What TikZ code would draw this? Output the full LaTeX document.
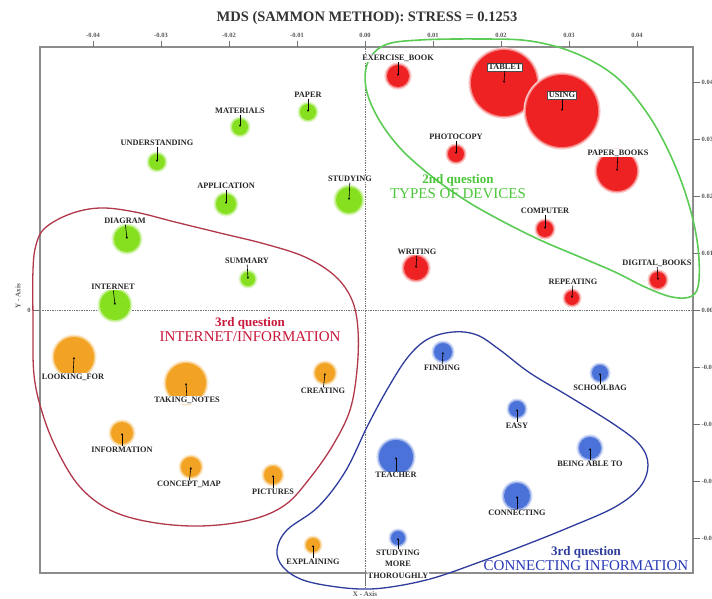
\documentclass[tikz,border=0pt]{standalone}
\usepackage{fontspec}
\setmainfont{Liberation Serif}
\usetikzlibrary{arrows.meta}

\definecolor{devred}{HTML}{EE2222}
\definecolor{strategygreen}{HTML}{86E020}
\definecolor{infoorange}{HTML}{F2A324}
\definecolor{connblue}{HTML}{4A72D8}
\definecolor{loopgreen}{HTML}{5CCB55}
\definecolor{loopred}{HTML}{B0384A}
\definecolor{loopblue}{HTML}{2E3C9C}
\definecolor{titlered}{HTML}{C8183C}
\definecolor{titlegreen}{HTML}{4CC63A}
\definecolor{titleblue}{HTML}{2B3AB8}
\definecolor{framegray}{HTML}{8C8C8C}

% one bubble with a soft rim: name, x, y, radius, colour
\newcommand{\mdsbubble}[5]{%
  \fill[#5!22] (#2,#3) circle ({#4+2.6});
  \fill[#5!55] (#2,#3) circle ({#4+1.3});
  \node[bubble, fill=#5, minimum size={2*#4}] (#1) at (#2,#3) {};
}
% the caption of a bubble and its stem: name, x, y, text
\newcommand{\mdslabel}[4]{%
  \node[itemlabel] (#1-l) at (#2,#3) {#4};
  \draw[stem] (#1-l) -- (#1.center);
}

\begin{document}
\begin{tikzpicture}[x=1pt,y=-1pt,
  bubble/.style={circle, draw=none, inner sep=0pt},
  itemlabel/.style={fill=white, inner sep=0.6pt, font=\fontsize{8.3}{9}\selectfont\bfseries, text=black!85},
  boxlabel/.style={itemlabel, draw=black!70, line width=0.5pt, inner sep=1.2pt},
  stem/.style={black, line width=0.6pt, -{Stealth[length=2.4pt,width=2.2pt]}},
  frameline/.style={framegray, line width=1.2pt},
  ticks/.style={framegray!80!black, line width=0.6pt},
  ticklabel/.style={font=\fontsize{6.5}{7}\selectfont\bfseries, text=black!65, inner sep=0.5pt},
  zeroline/.style={black!55, line width=0.7pt, densely dotted},
  grouploop/.style={line width=1.6pt},
  grouptitle/.style={font=\fontsize{15}{16}\selectfont, align=center, inner sep=0pt}]

\useasboundingbox (0,0) rectangle (712,599);
\fill[white] (0,0) rectangle (712,599);

% title
\node[font=\fontsize{14.5}{16}\selectfont\bfseries, text=black!80] (title) at (367,18) {MDS (SAMMON METHOD): STRESS = 0.1253};

% frame and zero lines
\draw[zeroline] (33,310) -- (700,310);
\draw[zeroline] (365,41) -- (365,588);
\draw[frameline] (40,47) rectangle (693,573);

% top axis
\foreach \v/\t in {-4/-0.04,-3/-0.03,-2/-0.02,-1/-0.01,0/0.00,1/0.01,2/0.02,3/0.03,4/0.04} {
  \draw[ticks] ({365+68*\v},47) -- ({365+68*\v},41);
  \node[ticklabel] at ({365+68*\v},35) {\t};
}
% right axis
\foreach \v/\t in {4/0.04,3/0.03,2/0.02,1/0.01,0/0.00,-1/-0.01,-2/-0.02,-3/-0.03,-4/-0.04} {
  \draw[ticks] (693,{310-57*\v}) -- (700,{310-57*\v});
  \node[ticklabel, anchor=west] at (701,{310-57*\v}) {\t};
}
% left and bottom axis names
\draw[ticks] (40,310) -- (34,310);
\node[ticklabel] (zero) at (29,310) {0};
\node[ticklabel, rotate=90, font=\fontsize{7}{8}\selectfont\bfseries] (yaxis) at (18,296) {Y - Axis};
\draw[ticks] (365,573) -- (365,586);
\node[ticklabel, font=\fontsize{7}{8}\selectfont\bfseries] (xaxis) at (365,594) {X - Axis};

% group outlines
\draw[grouploop, loopgreen] plot[smooth cycle, tension=0.6] coordinates {
  (368,62) (385,45) (420,40) (480,39) (530,41) (575,53) (615,76) (645,110)
  (668,150) (686,195) (697,240) (699,280) (692,296) (672,297) (645,287)
  (615,272) (580,257) (540,240) (500,220) (465,200) (430,175) (400,148)
  (378,118) (366,88)};
\draw[grouploop, loopred, line width=1.3pt] plot[smooth cycle, tension=0.6] coordinates {
  (45,228) (70,214) (100,208) (135,212) (175,222) (220,233) (265,244)
  (305,257) (335,276) (352,300) (358,330) (357,370) (350,410) (333,445)
  (310,478) (285,505) (250,520) (200,526) (150,522) (110,510) (80,487)
  (58,452) (43,415) (34,375) (33,320) (33,270) (36,245)};
\draw[grouploop, loopblue, line width=1.3pt] plot[smooth cycle, tension=0.6] coordinates {
  (453,332) (477,335) (500,350) (530,373) (570,397) (615,425) (640,445)
  (648,465) (640,487) (615,507) (570,527) (520,547) (477,563) (437,577)
  (403,585) (370,589) (337,587) (303,580) (283,567) (277,550) (287,530)
  (318,507) (345,472) (368,425) (388,388) (408,357) (428,339)};

% group titles
\node[grouptitle, text=titlegreen] (devices) at (458,187)
  {{\fontsize{13}{14}\selectfont\bfseries 2nd question}\\[-1pt]TYPES OF DEVICES};
\node[grouptitle, text=titlered] (internetinfo) at (250,330)
  {{\fontsize{13}{14}\selectfont\bfseries 3rd question}\\[-1pt]INTERNET/INFORMATION};
\node[grouptitle, text=titleblue] (conninfo) at (586,559)
  {{\fontsize{13}{14}\selectfont\bfseries\color{loopblue} 3rd question}\\[-1pt]CONNECTING INFORMATION};

% bubbles: types of devices
\mdsbubble{exbook}{398}{76}{11}{devred}
\mdsbubble{tablet}{504}{83}{33}{devred}
\mdsbubble{using}{562}{111}{36}{devred}
\mdsbubble{photocopy}{456}{154}{8}{devred}
\mdsbubble{paperbooks}{617}{171}{20}{devred}
\mdsbubble{computer}{545}{229}{8}{devred}
\mdsbubble{writing}{416}{268}{12}{devred}
\mdsbubble{repeating}{572}{298}{7}{devred}
\mdsbubble{digitalbooks}{658}{280}{8}{devred}
% bubbles: learning strategies
\mdsbubble{paper}{308}{112}{8}{strategygreen}
\mdsbubble{materials}{240}{127}{8}{strategygreen}
\mdsbubble{understanding}{157}{162}{8}{strategygreen}
\mdsbubble{application}{226}{204}{10}{strategygreen}
\mdsbubble{studying}{349}{200}{13}{strategygreen}
\mdsbubble{diagram}{127}{239}{13}{strategygreen}
\mdsbubble{summary}{248}{279}{7}{strategygreen}
\mdsbubble{internet}{115}{305}{15}{strategygreen}
% bubbles: internet / information
\mdsbubble{lookingfor}{74}{357}{20}{infoorange}
\mdsbubble{takingnotes}{186}{383}{20}{infoorange}
\mdsbubble{creating}{325}{373}{10}{infoorange}
\mdsbubble{information}{122}{433}{11}{infoorange}
\mdsbubble{conceptmap}{191}{467}{10}{infoorange}
\mdsbubble{pictures}{273}{475}{9}{infoorange}
\mdsbubble{explaining}{313}{545}{7}{infoorange}
% bubbles: connecting information
\mdsbubble{finding}{443}{352}{9}{connblue}
\mdsbubble{schoolbag}{600}{373}{8}{connblue}
\mdsbubble{easy}{517}{409}{8}{connblue}
\mdsbubble{beingable}{590}{448}{11}{connblue}
\mdsbubble{teacher}{396}{457}{17}{connblue}
\mdsbubble{connecting}{517}{496}{13}{connblue}
\mdsbubble{studymore}{398}{538}{7}{connblue}

% captions
\mdslabel{exbook}{398}{58}{EXERCISE\_BOOK}
\node[boxlabel] (tablet-l) at (505,67) {TABLET};
\draw[stem] (tablet-l) -- (tablet.center);
\node[boxlabel] (using-l) at (562,95) {USING};
\draw[stem] (using-l) -- (using.center);
\mdslabel{photocopy}{456}{137}{PHOTOCOPY}
\mdslabel{paperbooks}{618}{153}{PAPER\_BOOKS}
\mdslabel{computer}{545}{211}{COMPUTER}
\mdslabel{writing}{417}{252}{WRITING}
\mdslabel{repeating}{573}{282}{REPEATING}
\mdslabel{digitalbooks}{657}{263}{DIGITAL\_BOOKS}

\mdslabel{paper}{308}{95}{PAPER}
\mdslabel{materials}{240}{111}{MATERIALS}
\mdslabel{understanding}{157}{143}{UNDERSTANDING}
\mdslabel{application}{226}{186}{APPLICATION}
\mdslabel{studying}{350}{179}{STUDYING}
\mdslabel{diagram}{125}{221}{DIAGRAM}
\mdslabel{summary}{247}{261}{SUMMARY}
\mdslabel{internet}{113}{287}{INTERNET}

\mdslabel{lookingfor}{73}{377}{LOOKING\_FOR}
\mdslabel{takingnotes}{187}{400}{TAKING\_NOTES}
\mdslabel{creating}{323}{391}{CREATING}
\mdslabel{information}{122}{450}{INFORMATION}
\mdslabel{conceptmap}{189}{484}{CONCEPT\_MAP}
\mdslabel{pictures}{273}{492}{PICTURES}
\mdslabel{explaining}{313}{562}{EXPLAINING}

\mdslabel{finding}{442}{368}{FINDING}
\mdslabel{schoolbag}{600}{388}{SCHOOLBAG}
\mdslabel{easy}{517}{426}{EASY}
\mdslabel{beingable}{590}{464}{BEING ABLE TO}
\mdslabel{teacher}{396}{475}{TEACHER}
\mdslabel{connecting}{517}{513}{CONNECTING}
\node[itemlabel, align=center, font=\fontsize{8.3}{11.5}\selectfont\bfseries] (studymore-l) at (398,564) {STUDYING\\MORE\\THOROUGHLY};
\draw[stem] (studymore-l) -- (studymore.center);

\end{tikzpicture}
\end{document}
